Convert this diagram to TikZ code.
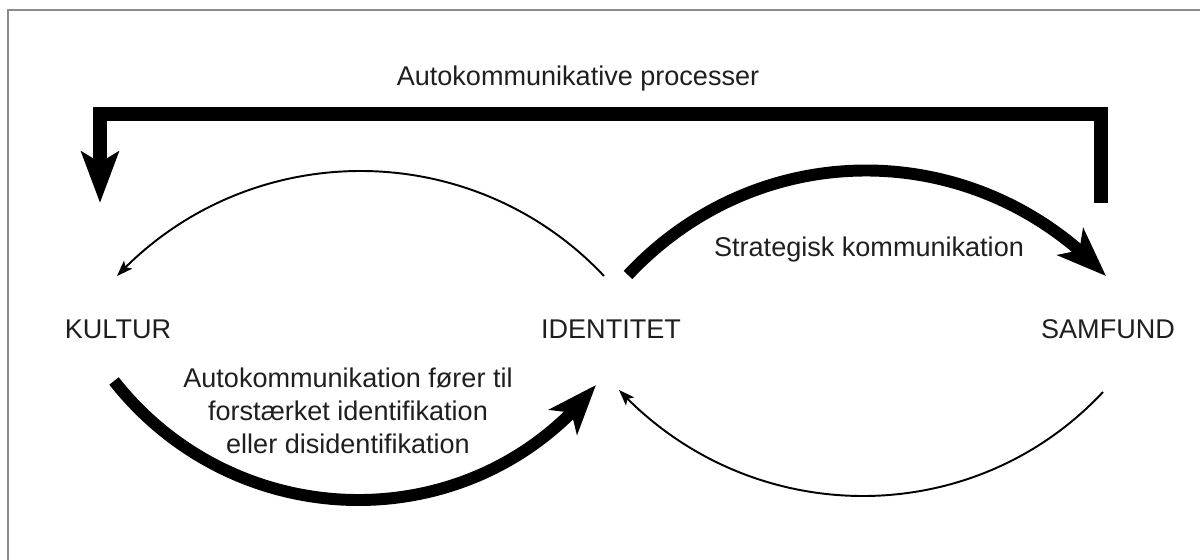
\documentclass[tikz,border=0pt]{standalone}
\usepackage{fontspec}
\setmainfont{Liberation Sans}
\usetikzlibrary{arrows.meta,bending}
\begin{document}
\begin{tikzpicture}[x=0.02cm,y=-0.02cm,
  lbl/.style={font=\fontsize{15.4}{18.7}\selectfont, text=black!88, inner sep=0pt},
  framecol/.style={draw=black!45, line width=1.1pt},
  thinarc/.style={line width=1.1pt, -{Stealth[length=9pt,width=6.5pt,inset=2pt]}},
  heavyarc/.style={line width=6.8pt, -{Stealth[length=28pt,width=21pt,inset=7pt]}},
  bracket/.style={line width=8pt, line join=miter, -{Stealth[length=29pt,width=21pt,inset=6pt]}}
]
\useasboundingbox (0,0) rectangle (1200,560);
\draw[framecol] (8,560) -- (8,10) -- (1200,10);

% labels
\node[lbl] (title) at (578,79) {Autokommunikative processer};
\node[lbl] (kultur) at (118,329) {KULTUR};
\node[lbl] (ident) at (611,329) {IDENTITET};
\node[lbl] (samf) at (1108,329) {SAMFUND};
\node[lbl] (strat) at (869,250) {Strategisk kommunikation};
\node[lbl, align=center] (auto) at (348,411) {Autokommunikation fører til\\forstærket identifikation\\eller disidentifikation};

% connector end points
\coordinate (bS) at (1101,203);
\coordinate (bR) at (1101,114);
\coordinate (bL) at (100,114);
\coordinate (bE) at (100,203);

\coordinate (iTL) at (604,276);
\coordinate (kT) at (117,276);
\coordinate (iTR) at (628,275);
\coordinate (sT) at (1106,276);
\coordinate (kB) at (114,381);
\coordinate (iBL) at (596,385);
\coordinate (sB) at (1103,392);
\coordinate (iBR) at (619,390);

% top bracket
\draw[bracket] (bS) -- (bR) -- (bL) -- (bE);

% thin arcs
\draw[thinarc] (iTL) .. controls (472,136) and (249,136) .. (kT);
\draw[thinarc] (sB) .. controls (972,532) and (750,530) .. (iBR);

% heavy arcs
\draw[heavyarc] (iTR) .. controls (759,135) and (975,136) .. (sT);
\draw[heavyarc] (kB) .. controls (237,537) and (473,541) .. (iBL);
\end{tikzpicture}
\end{document}
